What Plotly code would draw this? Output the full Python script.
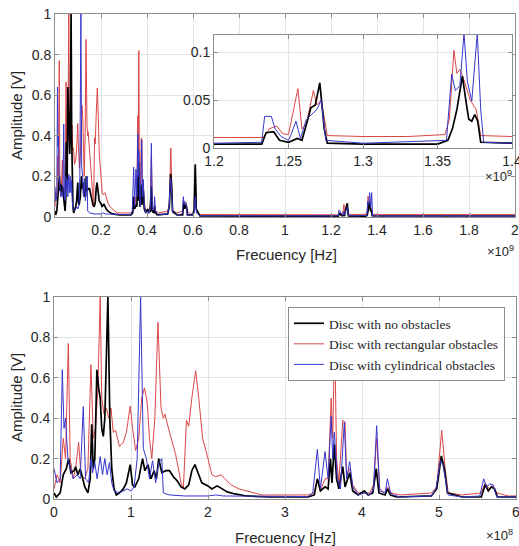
import plotly.graph_objects as go

# === Data (frequency in MHz, amplitude in V) ===
black_f = [0, 3, 8, 12, 16, 19, 22, 26, 28, 31,
           34, 37, 40, 44, 47, 49, 51, 53, 55.7, 58,
           60, 62, 64, 66, 70, 72.5, 75, 78, 81, 85,
           90, 94, 99, 102, 105, 110, 115, 118, 122, 126,
           130, 133, 136, 140, 145, 150, 155, 160, 165, 170,
           175, 179, 183, 187, 192, 200, 205, 212, 218, 225,
           235, 250, 280, 330, 338, 342, 346, 352, 356, 359,
           361, 364, 367, 370, 375, 378, 384, 388, 395, 403,
           408, 414, 418.5, 422, 430, 433, 437, 445, 490, 497,
           503, 507, 511, 530, 555, 560, 564, 568, 572, 576,
           600, 605, 610, 614, 630, 1200, 1232, 1235, 1240, 1244,
           1250, 1256, 1259, 1263, 1265, 1268, 1271, 1274, 1276, 1300,
           1350, 1357, 1360, 1363, 1366.7, 1369, 1371, 1373, 1375, 1377,
           1379, 1400, 1800, 2000]
black_a = [0.03, 0.01, 0.03, 0.12, 0.15, 0.2, 0.13, 0.14, 0.16, 0.12,
           0.15, 0.1, 0.06, 0.03, 0.1, 0.37, 0.15, 0.2, 0.64, 0.55,
           0.5, 0.35, 0.31, 0.4, 1.0, 0.4, 0.15, 0.05, 0.02, 0.03,
           0.05, 0.08, 0.17, 0.07, 0.06, 0.1, 0.2, 0.14, 0.17, 0.1,
           0.14, 0.1, 0.2, 0.13, 0.14, 0.14, 0.11, 0.09, 0.06, 0.05,
           0.07, 0.14, 0.17, 0.13, 0.08, 0.065, 0.05, 0.065, 0.05, 0.035,
           0.025, 0.015, 0.01, 0.01, 0.02, 0.1, 0.04, 0.06, 0.05, 0.2,
           0.08, 0.27, 0.1, 0.05, 0.16, 0.06, 0.13, 0.04, 0.02, 0.04,
           0.02, 0.03, 0.15, 0.03, 0.02, 0.05, 0.02, 0.01, 0.015, 0.05,
           0.213, 0.15, 0.03, 0.01, 0.01, 0.07, 0.04, 0.06, 0.05, 0.01,
           0.01, 0.04, 0.26, 0.04, 0.005, 0.004, 0.004, 0.016, 0.017, 0.008,
           0.006, 0.01, 0.008, 0.03, 0.042, 0.045, 0.068, 0.02, 0.005, 0.004,
           0.004, 0.008, 0.02, 0.04, 0.075, 0.05, 0.03, 0.028, 0.035, 0.028,
           0.006, 0.005, 0.005, 0.005]

red_f = [0, 4, 8, 12, 15, 18.6, 21, 25, 28, 32,
         35, 40, 44, 48, 51, 54, 57, 60, 62, 65,
         68, 71, 74, 77, 80, 85, 90, 94, 99, 102,
         106, 110, 114, 117.5, 121, 124, 127, 131, 135, 139,
         142, 144, 150, 158, 165, 168, 172, 175, 179, 184,
         188, 193, 200, 205, 210, 217, 222, 230, 240, 250,
         260, 270, 290, 310, 330, 338, 342, 346, 352, 356,
         360, 362, 364.5, 367, 370, 375, 378, 380, 384, 388,
         395, 403, 410, 415, 419, 423, 430, 433, 438, 450,
         490, 497, 503.5, 508, 512, 530, 555, 560, 565, 570,
         575, 590, 600, 605, 610, 615, 630, 1200, 1233, 1237,
         1242, 1246, 1250, 1256.3, 1259, 1262, 1266.7, 1269, 1272, 1276,
         1300, 1330, 1355, 1358, 1361, 1363, 1365, 1368, 1372, 1376,
         1379, 1400, 1700, 1705, 1710, 1800, 1805, 1810, 2000]
red_a = [0.05, 0.12, 0.08, 0.3, 0.2, 0.77, 0.2, 0.1, 0.15, 0.28,
         0.12, 0.1, 0.15, 0.665, 0.3, 0.35, 0.55, 1.0, 0.5, 0.42,
         0.45, 0.4, 0.45, 0.33, 0.34, 0.26, 0.28, 0.33, 0.46, 0.35,
         0.24, 0.3, 0.5, 0.55, 0.48, 0.3, 0.2, 0.4, 0.875, 0.45,
         0.4, 0.42, 0.33, 0.22, 0.08, 0.05, 0.39, 0.36, 0.5, 0.635,
         0.5, 0.3, 0.2, 0.12, 0.11, 0.12, 0.1, 0.07, 0.05, 0.04,
         0.03, 0.02, 0.02, 0.02, 0.02, 0.03, 0.1, 0.04, 0.1, 0.1,
         0.5, 0.3, 0.82, 0.2, 0.08, 0.39, 0.38, 0.12, 0.15, 0.07,
         0.03, 0.03, 0.03, 0.07, 0.3, 0.05, 0.03, 0.06, 0.03, 0.02,
         0.03, 0.06, 0.34, 0.15, 0.03, 0.02, 0.03, 0.08, 0.05, 0.07,
         0.03, 0.015, 0.015, 0.03, 0.25, 0.03, 0.012, 0.011, 0.011, 0.02,
         0.023, 0.015, 0.014, 0.062, 0.02, 0.025, 0.06, 0.045, 0.05, 0.013,
         0.012, 0.012, 0.014, 0.03, 0.102, 0.078, 0.082, 0.07, 0.05, 0.04,
         0.013, 0.012, 0.011, 0.014, 0.011, 0.012, 0.016, 0.012, 0.012]

blue_f = [0, 4, 8, 10.8, 13, 15, 18, 22, 25, 30,
          34, 38, 41, 45, 48, 50, 53, 56, 60, 63,
          66, 69, 72, 75, 78, 85, 90, 95, 100, 104,
          108, 112.5, 116, 120, 124, 128, 132, 136, 140, 142,
          150, 170, 200, 210, 220, 300, 330, 336, 342, 346,
          352, 356, 360, 362, 364, 368, 372, 377, 380, 384,
          388, 395, 403, 410, 415, 419, 423, 430, 433, 437,
          441, 450, 490, 496, 502, 505, 508, 512, 530, 553,
          558, 562, 566, 570, 575, 600, 605, 610, 615, 630,
          1200, 1232, 1234, 1238.5, 1241, 1245, 1250, 1252, 1255, 1258,
          1262, 1265, 1269, 1272, 1275, 1300, 1356, 1359.5, 1362, 1365,
          1367.8, 1370, 1373, 1376.7, 1379, 1381, 1400, 1690, 1700, 1710,
          2000]
blue_a = [0.15, 0.08, 0.1, 0.64, 0.35, 0.4, 0.2, 0.15, 0.1, 0.12,
          0.1, 0.457, 0.1, 0.08, 0.2, 0.13, 0.18, 0.1, 0.21, 0.12,
          0.2, 0.12, 0.18, 0.08, 0.04, 0.03, 0.04, 0.05, 0.04, 0.06,
          0.2, 1.0, 0.25, 0.2, 0.1, 0.19, 0.08, 0.18, 0.2, 0.03,
          0.02, 0.015, 0.015, 0.02, 0.015, 0.012, 0.012, 0.03, 0.246, 0.05,
          0.235, 0.1, 0.41, 0.2, 0.33, 0.1, 0.05, 0.38, 0.1, 0.185,
          0.06, 0.02, 0.03, 0.02, 0.05, 0.363, 0.04, 0.03, 0.1, 0.03,
          0.02, 0.01, 0.015, 0.05, 0.19, 0.17, 0.1, 0.02, 0.01, 0.015,
          0.1, 0.06, 0.075, 0.07, 0.01, 0.01, 0.02, 0.1, 0.02, 0.006,
          0.005, 0.006, 0.033, 0.033, 0.02, 0.012, 0.008, 0.015, 0.028, 0.01,
          0.03, 0.034, 0.04, 0.05, 0.008, 0.005, 0.008, 0.077, 0.06, 0.065,
          0.12, 0.07, 0.049, 0.12, 0.04, 0.006, 0.005, 0.005, 0.009, 0.005,
          0.005]

series_names = ["Disc with no obstacles",
                "Disc with rectangular obstacles",
                "Disc with cylindrical obstacles"]

top_ticks = [0.2, 0.4, 0.6, 0.8, 1, 1.2, 1.4, 1.6, 1.8, 2]            # x 1e9
inset_ticks = [1.2, 1.25, 1.3, 1.35, 1.4]                             # x 1e9
bottom_ticks = [0, 1, 2, 3, 4, 5, 6]                                  # x 1e8
amp_ticks = [0, 0.2, 0.4, 0.6, 0.8, 1]
inset_amp_ticks = [0, 0.05, 0.1]

# === Styles ===
series = [
    # (name, freq, amp, colour, width, legend rank)  drawn red, black, blue
    (series_names[1], red_f, red_a, "#dc4646", 1.0, 2),
    (series_names[0], black_f, black_a, "#000000", 1.7, 1),
    (series_names[2], blue_f, blue_a, "#3636cc", 1.0, 3),
]

W, H = 519, 546
TXT = "#262626"
font_sans = "Liberation Sans, Arial, sans-serif"

fig = go.Figure()

for ax, show in [("", False), ("2", False), ("3", True)]:
    for name, f, a, col, w, rank in series:
        fig.add_trace(
            go.Scatter(
                x=[v * 1e6 for v in f],
                y=a,
                mode="lines",
                name=name,
                line=dict(color=col, width=w),
                xaxis="x" + ax,
                yaxis="y" + ax,
                showlegend=show,
                legendrank=rank,
            )
        )


def px_x(p):
    return p / W


def px_y(p):
    return 1 - p / H


axis_common = dict(
    showline=True,
    linecolor="#8c8c8c",
    linewidth=1,
    mirror="ticks",
    ticks="inside",
    ticklen=4,
    tickcolor="#8c8c8c",
    showgrid=True,
    gridcolor="#e4e4e4",
    gridwidth=1,
    zeroline=False,
    automargin=False,
    ticklabeloverflow="allow",
    tickfont=dict(family=font_sans, size=14, color=TXT),
)

fig.update_layout(
    width=W,
    height=H,
    margin=dict(l=0, r=0, t=0, b=0),
    paper_bgcolor="white",
    plot_bgcolor="white",
    # === Top main ===
    xaxis=dict(
        axis_common,
        domain=[px_x(55), px_x(515)],
        range=[0, 2e9],
        tickvals=[t * 1e9 for t in top_ticks],
        ticktext=[f"{t:g}" for t in top_ticks],
        anchor="y",
    ),
    yaxis=dict(
        axis_common,
        domain=[px_y(217), px_y(14)],
        range=[0, 1],
        tickvals=amp_ticks,
        ticktext=[f"{t:g}" for t in amp_ticks],
        anchor="x",
    ),
    # === Inset ===
    xaxis2=dict(
        axis_common,
        domain=[px_x(214), px_x(512)],
        range=[1.2e9, 1.4e9],
        tickvals=[t * 1e9 for t in inset_ticks],
        ticktext=[f"{t:g}" for t in inset_ticks],
        anchor="y2",
    ),
    yaxis2=dict(
        axis_common,
        domain=[px_y(148), px_y(35)],
        range=[0, 0.118],
        tickvals=inset_amp_ticks,
        ticktext=[f"{t:g}" for t in inset_amp_ticks],
        anchor="x2",
    ),
    # === Bottom ===
    xaxis3=dict(
        axis_common,
        domain=[px_x(54), px_x(516)],
        range=[0, 6e8],
        tickvals=[t * 1e8 for t in bottom_ticks],
        ticktext=[f"{t:g}" for t in bottom_ticks],
        anchor="y3",
    ),
    yaxis3=dict(
        axis_common,
        domain=[px_y(499), px_y(297)],
        range=[0, 1],
        tickvals=amp_ticks,
        ticktext=[f"{t:g}" for t in amp_ticks],
        anchor="x3",
    ),
    legend=dict(
        x=px_x(505),
        y=px_y(307),
        xanchor="right",
        yanchor="top",
        bgcolor="white",
        bordercolor="#8c8c8c",
        borderwidth=1,
        font=dict(family="Liberation Serif, Times New Roman, serif", size=13.5, color=TXT),
        tracegroupgap=0,
    ),
)

# === Axis titles and exponent labels ===
labels = [
    ("Frecuency [Hz]", 286, 254, 15, 0),
    ("Frecuency [Hz]", 285, 537, 15, 0),
    ("Amplitude [V]", 16, 116, 15, -90),
    ("Amplitude [V]", 16, 398, 15, -90),
    ("×10<sup>9</sup>", 500, 251, 13, 0),
    ("×10<sup>9</sup>", 498, 176, 13, 0),
    ("×10<sup>8</sup>", 499, 535, 13, 0),
]
for txt, xp, yp, size, ang in labels:
    fig.add_annotation(
        x=px_x(xp), y=px_y(yp), xref="paper", yref="paper",
        xanchor="center", yanchor="middle",
        text=txt, showarrow=False, textangle=ang,
        font=dict(family=font_sans, size=size, color=TXT),
    )

fig.write_html(
    "out.html",
    config={"displayModeBar": False},
    post_script="document.body.style.margin='0';",
)
